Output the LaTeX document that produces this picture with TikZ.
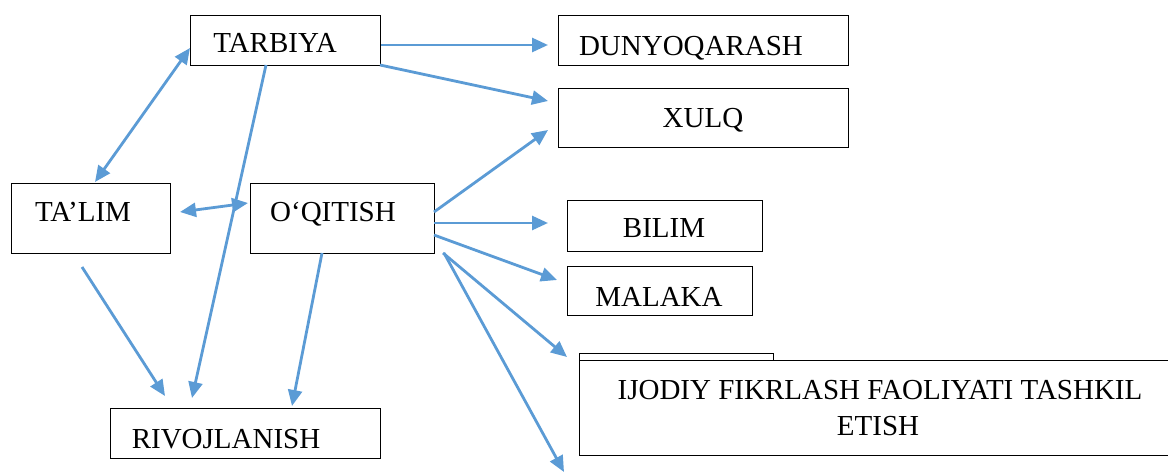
\documentclass[tikz,border=0pt]{standalone}
\usepackage{fontspec}
\setmainfont{Liberation Serif}
\usetikzlibrary{arrows.meta}
\definecolor{arrowblue}{RGB}{91,155,213}
\tikzset{
  box/.style={draw=black, line width=1.3pt, fill=white, inner sep=0pt, anchor=north west},
  txt/.style={inner sep=0pt, anchor=base, font=\fontsize{29}{36}\selectfont},
  conn/.style={draw=arrowblue, line width=2.8pt, -{Triangle[length=16pt,width=14pt]}},
  dconn/.style={draw=arrowblue, line width=2.8pt, {Triangle[length=16pt,width=14pt]}-{Triangle[length=16pt,width=14pt]}},
  plain/.style={draw=arrowblue, line width=2.8pt}
}
\begin{document}
\begin{tikzpicture}[x=1pt,y=-1pt]
\useasboundingbox (0,0) rectangle (1168,473);
% boxes
\node[box, minimum width=190pt, minimum height=50pt] (tarbiya) at (190,15) {};
\node[box, minimum width=290pt, minimum height=50pt] (dunyo) at (558,15) {};
\node[box, minimum width=290pt, minimum height=59pt] (xulq) at (558,88) {};
\node[box, minimum width=159pt, minimum height=70pt] (talim) at (11,183) {};
\node[box, minimum width=184pt, minimum height=70pt] (oqitish) at (250,183) {};
\node[box, minimum width=195pt, minimum height=51pt] (bilim) at (567,200) {};
\node[box, minimum width=185pt, minimum height=49pt] (malaka) at (567,266) {};
\node[box, minimum width=194pt, minimum height=40pt] (hidden) at (579,353) {};
\node[box, minimum width=589pt, minimum height=95pt] (ijodiy) at (579,360) {};
\node[box, minimum width=270pt, minimum height=50pt] (rivoj) at (110,408) {};
% texts
\node[txt] (tarbiyaT) at (275,53) {TARBIYA};
\node[txt] (dunyoT) at (691,56) {DUNYOQARASH};
\node[txt] (xulqT) at (703,128) {XULQ};
\node[txt] (talimT) at (83,222) {TA’LIM};
\node[txt] (oqitishT) at (333,222) {O‘QITISH};
\node[txt] (bilimT) at (664,238) {BILIM};
\node[txt] (malakaT) at (659,307) {MALAKA};
\node[txt] (ijodiyT1) at (880,399) {IJODIY FIKRLASH FAOLIYATI TASHKIL};
\node[txt] (ijodiyT2) at (878,435) {ETISH};
\node[txt] (rivojT) at (226,448) {RIVOJLANISH};
% connector end points
\coordinate (a1) at (381,45);  \coordinate (b1) at (548,45);
\coordinate (a2) at (380,65);  \coordinate (b2) at (548,101);
\coordinate (a3) at (95,182);  \coordinate (b3) at (190,48);
\coordinate (a4) at (180,212); \coordinate (b4) at (248,203);
\coordinate (a5) at (266,65);  \coordinate (b5) at (192,398);
\coordinate (a6) at (82,267);  \coordinate (b6) at (165,396);
\coordinate (a7) at (322,253); \coordinate (b7) at (292,406);
\coordinate (a8) at (434,212); \coordinate (b8) at (548,130);
\coordinate (a9) at (434,223); \coordinate (b9) at (548,223);
\coordinate (a10) at (434,235); \coordinate (b10) at (557,280);
\coordinate (a11) at (443,253); \coordinate (b11) at (567,357);
\coordinate (a12) at (444,253); \coordinate (b12) at (564,472);
% connectors
\draw[conn] (a1) -- (b1);
\draw[conn] (a2) -- (b2);
\draw[dconn] (a3) -- (b3);
\draw[dconn] (a4) -- (b4);
\draw[conn] (a5) -- (b5);
\draw[conn] (a6) -- (b6);
\draw[conn] (a7) -- (b7);
\draw[conn] (a8) -- (b8);
\draw[conn] (a9) -- (b9);
\draw[conn] (a10) -- (b10);
\draw[conn] (a11) -- (b11);
\draw[conn] (a12) -- (b12);
\end{tikzpicture}
\end{document}
